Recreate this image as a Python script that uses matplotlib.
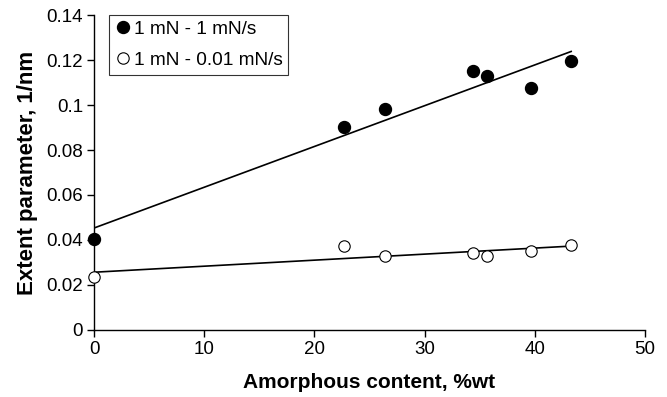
import numpy as np
import matplotlib
matplotlib.use("Agg")
import matplotlib.pyplot as plt

plt.rcParams['font.family'] = ['Liberation Sans', 'DejaVu Sans']

# amorphous content (%wt) and extent parameter (1/nm) for both loading rates
amorphous = [0, 22.7, 26.4, 34.4, 35.7, 39.7, 43.3]
extent_fast = [0.0403, 0.0904, 0.0981, 0.1151, 0.1129, 0.1076, 0.1194]
extent_slow = [0.0236, 0.0373, 0.0329, 0.0341, 0.0330, 0.0350, 0.0379]

label_fast = "1 mN - 1 mN/s"
label_slow = "1 mN - 0.01 mN/s"
yticklabels = ['0', '0.02', '0.04', '0.06', '0.08', '0.1', '0.12', '0.14']

fig = plt.figure(figsize=(6.67, 3.97), dpi=100)
ax = fig.add_axes([0.141, 0.169, 0.826, 0.793])

# linear trend lines over the measured range
x = np.array(amorphous)
xfit = np.array([x.min(), x.max()])
for ys in (extent_fast, extent_slow):
    k, b = np.polyfit(x, ys, 1)
    ax.plot(xfit, k * xfit + b, color='black', lw=1.2, zorder=2)

ax.plot(amorphous, extent_fast, 'o', color='black', ms=8.6,
        label=label_fast, clip_on=False, zorder=3)
ax.plot(amorphous, extent_slow, 'o', mfc='white', mec='black', mew=0.8,
        ms=8.2, label=label_slow, clip_on=False, zorder=3)

ax.set_xlim(0, 50)
ax.set_ylim(0, 0.14)
ax.set_xticks(range(0, 51, 10))
ax.set_yticks(np.linspace(0, 0.14, 8))
ax.set_yticklabels(yticklabels)

for side in ('top', 'right'):
    ax.spines[side].set_visible(False)
for side in ('left', 'bottom'):
    ax.spines[side].set_linewidth(1.0)
ax.tick_params(direction='out', length=5, width=1.0, labelsize=13.5, pad=3)

ax.set_xlabel("Amorphous content, %wt", fontsize=15, fontweight='bold', labelpad=11)
ax.set_ylabel("Extent parameter, 1/nm", fontsize=16, fontweight='bold', labelpad=6)

leg = ax.legend(loc='upper left', bbox_to_anchor=(0.027, 1.0), fontsize=13.7,
                frameon=True, fancybox=False, handletextpad=0.15,
                handlelength=0.85, borderpad=0.3, labelspacing=0.72,
                borderaxespad=0)
leg.get_frame().set_edgecolor('black')
leg.get_frame().set_linewidth(0.8)

fig.savefig("out.png", dpi=100)
